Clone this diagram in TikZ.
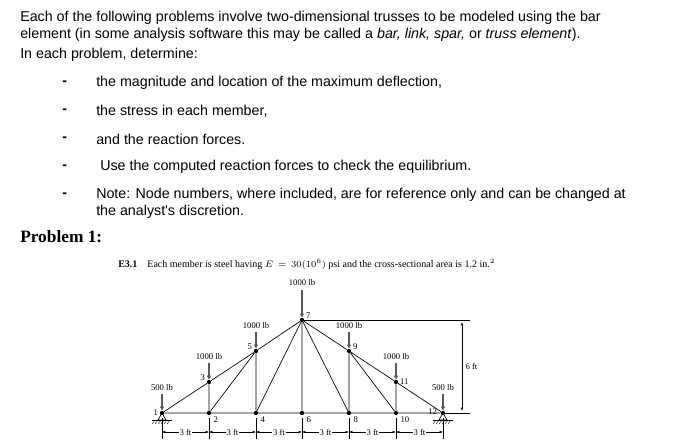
\documentclass[tikz,border=0pt]{standalone}
\usepackage{fontspec}
\setmainfont{Liberation Serif}
\newfontfamily\arial{Liberation Sans}
\usetikzlibrary{arrows.meta,calc}
\begin{document}
\begin{tikzpicture}[x=0.75pt,y=-0.75pt,
  txt/.style={font=\arial\fontsize{10.7}{12}\selectfont,anchor=west,inner sep=0},
  small/.style={font=\fontsize{6.5}{7}\selectfont,inner sep=1pt},
  jt/.style={circle,fill=black,inner sep=0,minimum size=3.2pt},
  mem/.style={line width=0.5pt},
  load/.style={line width=1.1pt,-{Triangle[length=3pt,width=3pt]},gray!70!black},
  dim/.style={line width=0.4pt,{Latex[length=2.5pt]}-{Latex[length=2.5pt]}}]
\useasboundingbox (0,0) rectangle (690,442);
\node[txt] at (20,18) {Each of the following problems involve two-dimensional trusses to be modeled using the bar};
\node[txt] at (20,35) {element (in some analysis software this may be called a \textit{bar, link, spar,} or \textit{truss element}).};
\node[txt] at (20,55) {In each problem, determine:};
\foreach \y/\t in {83/{the magnitude and location of the maximum deflection,},111/{the stress in each member,},139/{and the reaction forces.}}
  {\node[txt] at (62,\y) {\textbf{-}}; \node[txt] at (96,\y) {\t};}
\node[txt] at (62,167) {\textbf{-}}; \node[txt] at (100,167) {Use the computed reaction forces to check the equilibrium.};
\node[txt] at (62,195) {\textbf{-}}; \node[txt] at (96,195) {Note: Node numbers, where included, are for reference only and can be changed at};
\node[txt] at (96,212) {the analyst's discretion.};
\node[anchor=west,inner sep=0,font=\bfseries\fontsize{13}{15}\selectfont] at (20,237) {Problem 1:};
\node[anchor=west,inner sep=0,font=\fontsize{7.5}{9}\selectfont] at (118,265) {\textbf{E3.1}\quad Each member is steel having $E\,=\,30(10^6)$ psi and the cross-sectional area is 1.2 in.$^2$};
% joints
\foreach \n/\x/\y in {1/162/413,2/209/413,4/256/413,6/302/413,8/349/413,10/396/413,12/443/413,3/209/382,5/256/351,7/302/320,9/349/351,11/396/382}
  \node[jt] (n\n) at (\x,\y) {};
% members
\draw[mem] (n1)--(n12) (n1)--(n3)--(n5)--(n7)--(n9)--(n11)--(n12)
  (n2)--(n3) (n2)--(n5) (n4)--(n5) (n4)--(n7) (n6)--(n7) (n8)--(n7) (n8)--(n9) (n10)--(n9) (n10)--(n11);
% node labels
\node[small,anchor=east] at (n1.west) {1};
\node[small,anchor=north west] at ([xshift=1pt]n2.south east) {2};
\node[small,anchor=south east] at (n3.west) {3};
\node[small,anchor=north west] at ([xshift=1pt]n4.south east) {4};
\node[small,anchor=south east] at (n5.west) {5};
\node[small,anchor=north west] at ([xshift=1pt]n6.south east) {6};
\node[small,anchor=south west] at (n7.east) {7};
\node[small,anchor=north west] at ([xshift=1pt]n8.south east) {8};
\node[small,anchor=south west] at (n9.east) {9};
\node[small,anchor=north west] at ([xshift=1pt]n10.south east) {10};
\node[small,anchor=west] at (n11.east) {11};
\node[small,anchor=south east] at ([xshift=-2pt,yshift=-1pt]n12.south west) {12};
% loads
\foreach \n/\t in {5/1000 lb,9/1000 lb,3/1000 lb,11/1000 lb,1/500 lb,12/500 lb}{
  \path (n\n.north) ++(0,-17) coordinate (a\n);
  \draw[load] (a\n) -- (n\n.north);
  \node[small] at ($(a\n)+(0,-6)$) {\t};}
\coordinate (a7) at (302,290);
\draw[load] (a7) -- (n7.north);
\node[small,anchor=south] at ([yshift=2pt]a7) {1000 lb};
% supports
\foreach \n in {1,12}{
  \draw[line width=0.5pt] (n\n.center) -- ++(-4,7) -- ++(8,0) -- cycle;
  \draw[line width=0.6pt] (n\n.center) ++(-10,7) -- ++(20,0);
  \foreach \k in {0,...,5} \draw[line width=0.3pt] (n\n.center) ++(-7+3*\k,7) -- ++(-3,4);}
% height dimension
\coordinate (r7) at (470,320); \coordinate (r12) at (470,413);
\draw[line width=0.3pt] (n7) -- (r7) (n12) -- (r12);
\draw[dim] (462,322) -- (462,411);
\node[small,anchor=west] at (464,366) {6 ft};
% bottom dims
\foreach \n in {1,2,4,6,8,10,12} \draw[line width=0.3pt] (n\n.center) ++(0,5) -- ++(0,21);
\foreach \a/\b in {1/2,2/4,4/6,6/8,8/10,10/12}{
  \path (n\a) ++(0,19) coordinate (p) (n\b) ++(0,19) coordinate (q);
  \draw[dim] (p) -- (q);
  \node[small,fill=white,inner sep=0.5pt] at ($(p)!0.5!(q)$) {3 ft};}
\end{tikzpicture}
\end{document}
